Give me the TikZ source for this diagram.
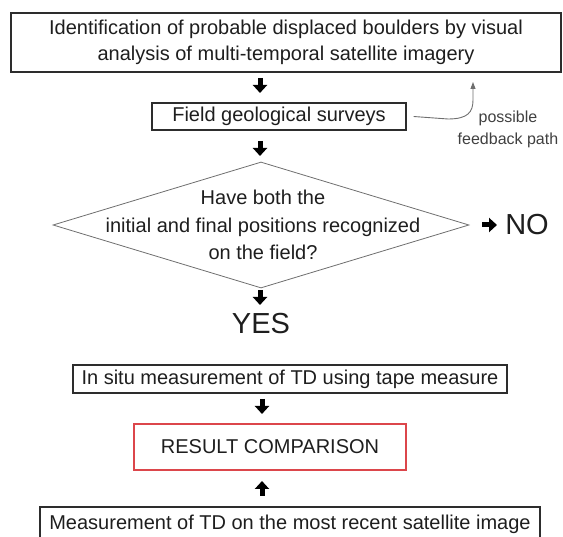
\documentclass[tikz,border=0pt]{standalone}
\usepackage{fontspec}
\setmainfont{Liberation Sans}
\usetikzlibrary{arrows.meta,shapes.geometric}
\definecolor{boxline}{RGB}{45,45,45}
\definecolor{diaLine}{RGB}{110,110,110}
\definecolor{redline}{RGB}{220,70,75}
\definecolor{txt}{RGB}{30,30,30}
\tikzset{
  boxnode/.style={draw=boxline, line width=1.2pt, inner sep=0pt, font=\fontsize{20}{26.5}\selectfont, text=txt},
  blockarrow/.style={line width=5pt, -{Triangle[width=14pt,length=8pt]}, black},
  bigtext/.style={font=\fontsize{29}{30}\selectfont, inner sep=0pt, text=txt},
  smalltext/.style={font=\fontsize{16}{22}\selectfont, align=center, inner sep=0pt, text=txt!85},
}
\begin{document}
\begin{tikzpicture}[x=1pt,y=-1pt]
\useasboundingbox (0,0) rectangle (563,537);
% top box
\node[boxnode, minimum width=550pt, minimum height=59pt, align=center] (top) at (286,42.5)
  {Identification of probable displaced boulders by visual\\analysis of multi-temporal satellite imagery};
% field box
\node[boxnode, minimum width=254pt, minimum height=27pt] (field) at (279,116.5) {Field geological surveys};
% diamond
\node[draw=diaLine, line width=0.8pt, diamond, minimum width=416pt, minimum height=126pt, inner sep=0pt] (q) at (261,225) {};
\node[align=center, font=\fontsize{20}{27.5}\selectfont, text=txt, inner sep=0pt] (qt) at (263,225)
  {Have both the\\initial and final positions recognized\\on the field?};
\node[bigtext] (no) at (527,225) {NO};
\node[bigtext] (yes) at (261,324) {YES};
% in situ box
\node[boxnode, minimum width=434pt, minimum height=28pt] (insitu) at (290,379) {In situ measurement of TD using tape measure};
% result box
\node[boxnode, draw=redline, line width=1.3pt, minimum width=272pt, minimum height=46pt] (res) at (270,447) {RESULT COMPARISON};
% bottom box
\node[boxnode, minimum width=500pt, minimum height=34pt] (bot) at (290,524) {Measurement of TD on the most recent satellite image};
% feedback label
\node[smalltext] (fb) at (508,129) {possible\\feedback path};
% arrows
\coordinate (a1s) at (260,78); \coordinate (a1e) at (260,93);
\draw[blockarrow] (a1s) -- (a1e);
\coordinate (a2s) at (260,141); \coordinate (a2e) at (260,156);
\draw[blockarrow] (a2s) -- (a2e);
\coordinate (a3s) at (260,290); \coordinate (a3e) at (260,305);
\draw[blockarrow] (a3s) -- (a3e);
\coordinate (a4s) at (262,399); \coordinate (a4e) at (262,414);
\draw[blockarrow] (a4s) -- (a4e);
\coordinate (a5s) at (262,496); \coordinate (a5e) at (262,481);
\draw[blockarrow] (a5s) -- (a5e);
\coordinate (a6s) at (482,225); \coordinate (a6e) at (497,225);
\draw[blockarrow] (a6s) -- (a6e);
% feedback path
\coordinate (fbtip) at (473,82);
\draw[diaLine, line width=0.9pt, -{Triangle[width=5pt,length=7pt]}]
  ([xshift=7pt]field.east) -- (448,119) .. controls (468,119) and (473,112) .. (473,100) -- (fbtip);
\end{tikzpicture}
\end{document}
